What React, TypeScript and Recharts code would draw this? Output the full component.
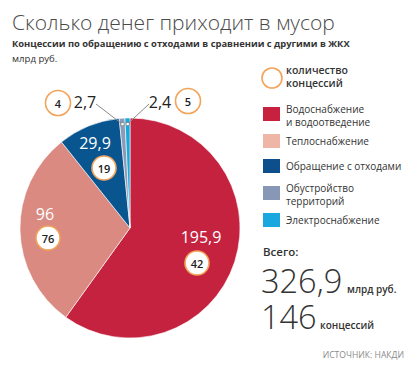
import React from "react";
import { PieChart, Pie, Cell } from "recharts";

const categories = [
  "Водоснабжение и водоотведение",
  "Теплоснабжение",
  "Обращение с отходами",
  "Обустройство территорий",
  "Электроснабжение",
];
const values = [195.9, 96, 29.9, 2.7, 2.4];
const counts = [42, 76, 19, 4, 5];
const pieColors = ["#C4223F", "#DA8A80", "#08558F", "#8A9AB7", "#1AA7DA"];
const legendColors = ["#C8213F", "#EDB6A6", "#0C4F8A", "#8897B6", "#1AA8DE"];
const legendLines = [
  ["Водоснабжение", "и водоотведение"],
  ["Теплоснабжение"],
  ["Обращение с отходами"],
  ["Обустройство", "территорий"],
  ["Электроснабжение"],
];

const data = categories.map((name, i) => ({ name, value: values[i], count: counts[i] }));
const totalValue = values.reduce((a, b) => a + b, 0);
const totalCount = counts.reduce((a, b) => a + b, 0);

const fmt = (v: number) => String(Math.round(v * 10) / 10).replace(".", ",");

const FONT = "'Open Sans', 'Noto Sans', sans-serif";
const ORANGE = "#F3A35A";

// label placement relative to the pie centre (value text, count circle)
const labelLayout = [
  { v: [71, 9], c: [67, 35], inside: true },
  { v: [-85, -14], c: [-82, 10], inside: true },
  { v: [-35, -85], c: [-26, -60], inside: true },
  { v: [-45, -126], c: [-72, -125], inside: false },
  { v: [30, -126], c: [58, -127], inside: false },
];

const RAD = Math.PI / 180;

const renderLabel = (props: any) => {
  const { cx, cy, index, midAngle, outerRadius } = props;
  const L = labelLayout[index];
  const vx = cx + L.v[0];
  const vy = cy + L.v[1];
  const ccx = cx + L.c[0];
  const ccy = cy + L.c[1];
  const els: any[] = [];
  if (!L.inside) {
    const er = outerRadius - 6;
    const ex = cx + er * Math.cos(-midAngle * RAD);
    const ey = cy + er * Math.sin(-midAngle * RAD);
    const sx = index === 3 ? vx + 11 : vx - 11;
    const sy = vy + 2;
    els.push(
      <line key="l" x1={sx} y1={sy} x2={ex} y2={ey} stroke="#8a8a8a" strokeWidth={1} />,
      <rect key="d" x={ex - 1.5} y={ey - 1.5} width={3} height={3} fill="#fff" stroke="#666" strokeWidth={0.5} />
    );
  }
  return (
    <g key={`lab-${index}`}>
      {els}
      <text
        x={vx}
        y={vy}
        textAnchor="middle"
        dominantBaseline="central"
        fill={L.inside ? "#fff" : "#222"}
        fontSize={16}
        fontFamily={FONT}
        fontWeight={400}
      >
        {fmt(values[index])}
      </text>
      <circle cx={ccx} cy={ccy} r={L.inside ? 12 : 12.5} fill="#fff" stroke={ORANGE} strokeWidth={1.6} />
      <text
        x={ccx}
        y={ccy}
        textAnchor="middle"
        dominantBaseline="central"
        fill="#222"
        fontSize={11}
        fontFamily={FONT}
        fontWeight={600}
      >
        {counts[index]}
      </text>
    </g>
  );
};

export default function App() {
  const legendY = [107, 134, 159, 186, 213];
  return (
    <div style={{ position: "absolute", left: 0, top: 0, width: 417, height: 380, background: "#fff" }}>
      <PieChart width={417} height={380} style={{ position: "absolute", left: 0, top: 0 }}>
        <text x={12} y={30} fontSize={21} fontFamily={FONT} fontWeight={300} fill="#4a4a4a">
          Сколько денег приходит в мусор
        </text>
        <text x={12} y={47} fontSize={9.4} fontFamily={FONT} fontWeight={700} fill="#333">
          Концессии по обращению с отходами в сравнении с другими в ЖКХ
        </text>
        <text x={12} y={62} fontSize={9.6} fontFamily={FONT} fontWeight={400} fill="#333">
          млрд руб.
        </text>
        <Pie
          data={data}
          dataKey="value"
          nameKey="name"
          cx={125}
          cy={223}
          outerRadius={110}
          innerRadius={0}
          startAngle={90}
          endAngle={-270}
          stroke="#fff"
          strokeWidth={0.6}
          isAnimationActive={false}
          labelLine={false}
          label={renderLabel}
        >
          {data.map((d, i) => (
            <Cell key={d.name} fill={pieColors[i]} />
          ))}
        </Pie>
        {/* legend */}
        <circle cx={272} cy={78} r={10} fill="#fff" stroke={ORANGE} strokeWidth={1.6} />
        <text x={286} y={74} fontSize={10.5} fontFamily={FONT} fontWeight={600} fill="#333">
          количество
        </text>
        <text x={286} y={87} fontSize={10.5} fontFamily={FONT} fontWeight={600} fill="#333">
          концессий
        </text>
        {categories.map((c, i) => (
          <g key={c}>
            <rect x={263} y={legendY[i]} width={17} height={14} fill={legendColors[i]} />
            {legendLines[i].map((ln, j) => (
              <text
                key={j}
                x={286}
                y={legendY[i] + (legendLines[i].length === 1 ? 11 : 6 + j * 13)}
                fontSize={10}
                fontFamily={FONT}
                fontWeight={400}
                fill="#333"
              >
                {ln}
              </text>
            ))}
          </g>
        ))}
        <text x={263} y={256} fontSize={11.5} fontFamily={FONT} fontWeight={600} fill="#333">
          Всего:
        </text>
        <text x={261} y={293} fontSize={32.5} fontFamily={FONT} fontWeight={300} fill="#333">
          {fmt(totalValue)}
        </text>
        <text x={347} y={293} fontSize={10} fontFamily={FONT} fontWeight={600} fill="#333">
          млрд руб.
        </text>
        <text x={261} y={329} fontSize={32.5} fontFamily={FONT} fontWeight={300} fill="#333">
          {totalCount}
        </text>
        <text x={320} y={329} fontSize={10} fontFamily={FONT} fontWeight={600} fill="#333">
          концессий
        </text>
        <text x={404} y={358} textAnchor="end" fontSize={8.6} fontFamily={FONT} fontWeight={400} fill="#8a8a8a">
          ИСТОЧНИК: НАКДИ
        </text>
      </PieChart>
    </div>
  );
}
